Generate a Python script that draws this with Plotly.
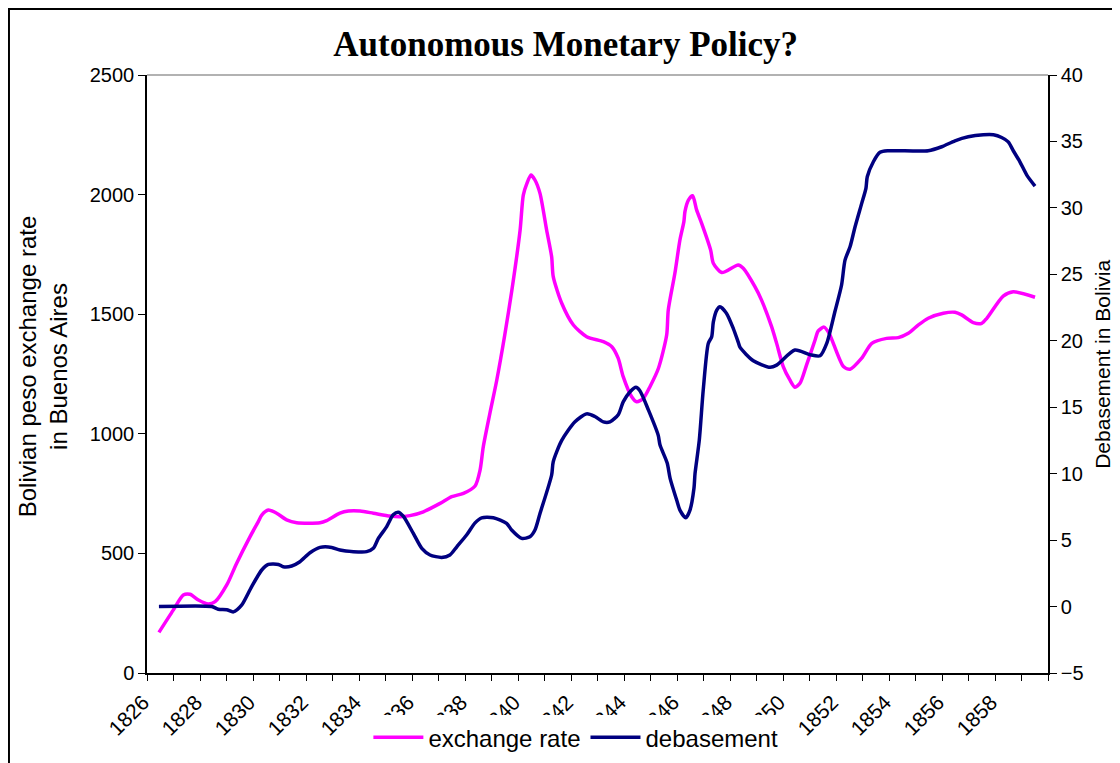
import plotly.graph_objects as go

rate_years = [1826.45, 1826.99, 1827.37, 1827.62, 1827.94, 1828.31, 1828.57, 1829.01, 1829.38, 1829.89,
              1830.2, 1830.33, 1830.58, 1830.89, 1831.27, 1831.65, 1832.53, 1832.78, 1833.28, 1833.6,
              1834.04, 1834.54, 1835.17, 1835.55, 1835.92, 1836.43, 1837.06, 1837.5, 1837.94, 1838.38,
              1838.57, 1838.69, 1838.94, 1839.2, 1839.5, 1839.77, 1840.08, 1840.2, 1840.34, 1840.49,
              1840.64, 1840.83, 1841.08, 1841.27, 1841.33, 1841.65, 1842.09, 1842.59, 1843.22, 1843.54,
              1843.78, 1843.97, 1844.29, 1844.48, 1844.73, 1844.98, 1845.3, 1845.61, 1845.67, 1845.92,
              1846.11, 1846.26, 1846.3, 1846.43, 1846.59, 1846.74, 1846.93, 1847.27, 1847.37, 1847.69,
              1848.31, 1848.5, 1848.94, 1849.19, 1849.57, 1849.76, 1850.01, 1850.26, 1850.45, 1850.64,
              1850.89, 1851.21, 1851.33, 1851.55, 1851.74, 1852.28, 1852.53, 1852.97, 1853.35, 1853.91,
              1854.35, 1854.73, 1855.11, 1855.48, 1856.05, 1856.49, 1856.74, 1857.18, 1857.5, 1857.69,
              1858.31, 1858.69, 1859.51]
exchange_rate = [170, 263, 326, 329, 305, 288, 298, 368, 458, 570,
                 633, 660, 681, 668, 640, 628, 628, 637, 668, 677,
                 677, 668, 656, 653, 658, 674, 709, 737, 751, 782,
                 849, 946, 1086, 1225, 1413, 1601, 1852, 1998, 2048, 2082,
                 2061, 2005, 1852, 1740, 1657, 1546, 1455, 1406, 1385, 1364,
                 1316, 1239, 1155, 1134, 1148, 1197, 1274, 1413, 1517, 1671,
                 1810, 1887, 1929, 1977, 1995, 1936, 1880, 1768, 1713, 1674,
                 1706, 1692, 1615, 1559, 1448, 1378, 1281, 1225, 1195, 1211,
                 1288, 1392, 1430, 1446, 1420, 1281, 1270, 1316, 1378, 1399,
                 1402, 1420, 1455, 1483, 1504, 1508, 1497, 1465, 1462, 1483,
                 1576, 1594, 1571]

deb_years = [1826.45, 1828.44, 1828.69, 1829.01, 1829.26, 1829.57, 1829.95, 1830.33, 1830.58, 1830.96,
             1831.14, 1831.46, 1831.77, 1832.15, 1832.53, 1832.97, 1833.28, 1833.79, 1834.29, 1834.54,
             1834.73, 1835.04, 1835.29, 1835.48, 1835.67, 1836.05, 1836.37, 1836.68, 1837.12, 1837.43,
             1837.69, 1838.06, 1838.38, 1838.63, 1839.07, 1839.57, 1839.76, 1840.14, 1840.45, 1840.64,
             1840.83, 1841.27, 1841.33, 1841.65, 1842.15, 1842.59, 1842.9, 1843.22, 1843.47, 1843.79,
             1843.97, 1844.23, 1844.45, 1844.6, 1844.92, 1845.29, 1845.36, 1845.63, 1845.74, 1845.99,
             1846.11, 1846.33, 1846.49, 1846.64, 1846.68, 1846.84, 1846.99, 1847.18, 1847.31, 1847.37,
             1847.5, 1847.62, 1847.87, 1848.13, 1848.31, 1848.38, 1848.88, 1849.51, 1849.76, 1850.45,
             1851.02, 1851.4, 1851.65, 1851.96, 1852.21, 1852.34, 1852.53, 1852.72, 1852.97, 1853.13,
             1853.18, 1853.41, 1853.66, 1853.97, 1855.48, 1855.99, 1856.49, 1856.99, 1857.56, 1857.94,
             1858.25, 1858.5, 1858.69, 1858.94, 1859.2, 1859.51]
debasement = [0, 0, -0.2, -0.24, -0.4, 0.1, 1.5, 2.75, 3.17, 3.17,
              3.0, 3.05, 3.37, 4.05, 4.45, 4.45, 4.25, 4.13, 4.13, 4.38,
              5.13, 6.0, 6.9, 7.1, 6.8, 5.5, 4.38, 3.88, 3.7, 3.88,
              4.5, 5.38, 6.3, 6.68, 6.68, 6.26, 5.76, 5.13, 5.25, 5.76,
              7.0, 9.9, 10.9, 12.5, 13.9, 14.5, 14.3, 13.9, 13.9, 14.46,
              15.4, 16.16, 16.5, 16.24, 14.8, 12.9, 12.15, 10.8, 9.65, 8.0,
              7.26, 6.68, 7.26, 8.9, 10.0, 12.5, 16.3, 19.8, 20.3, 21.4,
              22.3, 22.56, 22.06, 20.9, 19.9, 19.5, 18.5, 18.0, 18.17, 19.3,
              18.95, 18.87, 19.8, 22.2, 24.2, 26.07, 27.07, 28.58, 30.34, 31.47,
              32.34, 33.47, 34.18, 34.3, 34.3, 34.6, 35.05, 35.35, 35.5, 35.5,
              35.3, 34.97, 34.3, 33.47, 32.47, 31.64]

tick_years = list(range(1826, 1861))
tick_labels = [str(y) if (y % 2 == 0 and y <= 1858) else "" for y in tick_years]

fig = go.Figure()
fig.add_trace(go.Scatter(x=rate_years, y=exchange_rate, name="exchange rate", mode="lines",
                         line=dict(color="#FF00FF", width=3.5, shape="spline", smoothing=0.7)))
fig.add_trace(go.Scatter(x=deb_years, y=debasement, name="debasement", mode="lines", yaxis="y2",
                         line=dict(color="#000080", width=3.5, shape="spline", smoothing=0.7)))

sans = "Liberation Sans, Arial, sans-serif"
ytick_font = dict(family=sans, size=20, color="black")
xtick_font = dict(family=sans, size=21, color="black")

fig.update_layout(
    width=1112, height=755,
    margin=dict(l=139, r=72, t=67, b=90, autoexpand=False),
    paper_bgcolor="white", plot_bgcolor="white",
    title=dict(text="<b>Autonomous Monetary Policy?</b>", x=0.5015, xanchor="center", y=0.952, yanchor="middle",
               font=dict(family="Liberation Serif, Times New Roman, serif", size=35, color="black")),
    xaxis=dict(range=[1826, 1860], tickmode="array", tickvals=tick_years, ticktext=tick_labels,
               tickangle=-45, ticks="outside", ticklen=6, tickcolor="black", showline=True,
               linecolor="black", linewidth=1.5, showgrid=False, zeroline=False, tickfont=xtick_font,
               ticklabelstandoff=1, ticklabelshift=-4),
    yaxis=dict(range=[0, 2500], dtick=500, ticks="outside", ticklen=7, tickcolor="black",
               showline=True, linecolor="black", linewidth=1.5, showgrid=False, zeroline=False,
               tickfont=ytick_font),
    yaxis2=dict(range=[-5, 40], dtick=5, overlaying="y", side="right", ticks="outside", ticklen=7,
                tickcolor="black", showline=True, linecolor="black", linewidth=1.5, showgrid=False,
                zeroline=False, tickfont=ytick_font),
    legend=dict(orientation="h", x=0.476, xanchor="center", y=-0.108, yanchor="middle",
                bgcolor="white", font=dict(family=sans, size=24, color="black"),
                itemwidth=50, tracegroupgap=0),
    showlegend=True,
    annotations=[
        dict(text="Bolivian peso exchange rate<br>in Buenos Aires", xref="paper", yref="paper",
             x=-0.1154, y=0.513, xanchor="center", yanchor="middle", textangle=-90, showarrow=False,
             font=dict(family=sans, size=24, color="black")),
        dict(text="Debasement in Bolivia", xref="paper", yref="paper",
             x=1.061, y=0.517, xanchor="center", yanchor="middle", textangle=-90, showarrow=False,
             font=dict(family=sans, size=21, color="black")),
    ],
    shapes=[
        dict(type="line", xref="paper", yref="paper", x0=0, x1=1, y0=1, y1=1,
             line=dict(color="#999999", width=1.5)),
        dict(type="rect", xref="paper", yref="paper", x0=-0.1532, x1=1.2, y0=-0.3, y1=1.1104,
             line=dict(color="black", width=2), layer="below"),
    ],
)

fig.write_html("out.html")
